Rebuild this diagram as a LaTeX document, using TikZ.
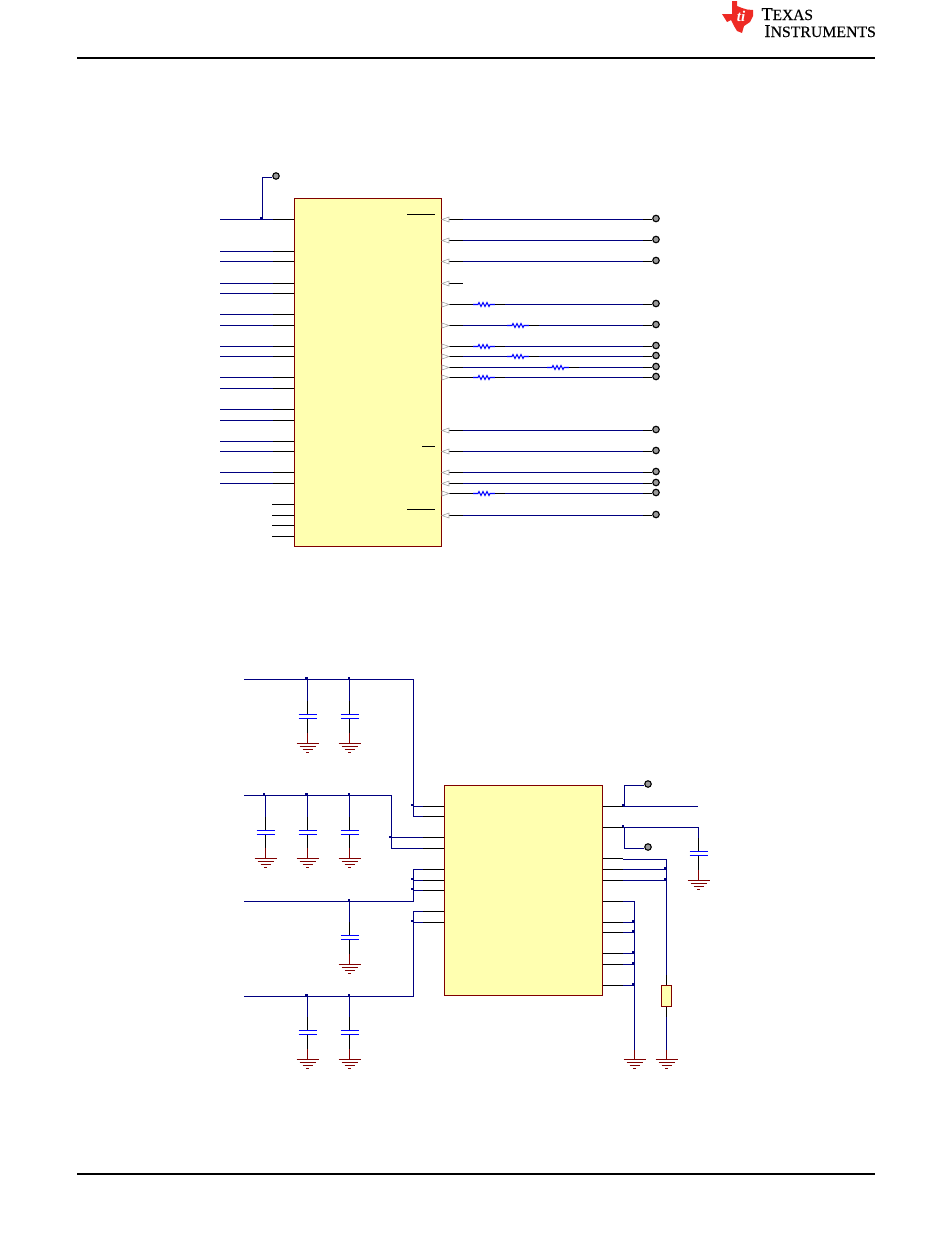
\documentclass[tikz,border=0pt]{standalone}
\usepackage{fontspec}
\setmainfont{Liberation Serif}
\usetikzlibrary{positioning}

\definecolor{netblue}{HTML}{000080}
\definecolor{partblue}{HTML}{0000FF}
\definecolor{partred}{HTML}{800000}
\definecolor{partfill}{HTML}{FFFFB0}
\definecolor{tired}{HTML}{EE2A24}

\begin{document}
\begin{tikzpicture} [x=1pt,y=-1pt,line width=1.1pt,
  net/.style= {draw=netblue},
  lead/.style= {draw=black},
  part/.style= {draw=partblue},
  gnd/.style= {draw=partred},
  chip/.style= {shape=rectangle,draw=partred,fill=partfill,inner sep=0},
  tri/.style= {draw=black!35,fill=white,line width=0.6pt},
  term/.style= {shape=circle,draw=black,fill=black!40,minimum size=6.5pt,inner sep=0},
  junc/.style= {shape=rectangle,fill=netblue,minimum size=2.5pt,inner sep=0},
  rule/.style= {draw=black,line width=1.9pt}]
\useasboundingbox (0,0) rectangle (950,1237);

% page head and foot
\draw[rule] (77,57.6)--(875,57.6);
\draw[rule] (77,1174)--(875,1174);
\fill[tired] (732,1)--(737,1)--(737,6)--(742,8)--(747,9.5)--(753,10)--(753,16)--(750,22)--(744,26)--(742,33)--(737,31)--(734,26)--(731,20)--(727,22)--(722,14)--(732,14)--cycle;
\node[text=white,font=\fontsize{15}{15}\itshape\bfseries,inner sep=0] (tilogo) at (741,16) {ti};
\node[anchor=base west,inner sep=0] (texas) at (761,20) {\addfontfeature{FakeBold=0.3}\fontsize{18}{18}\selectfont T\fontsize{15.5}{15.5}\selectfont EXAS};
\node[anchor=base west,inner sep=0] (instr) at (764,37) {\addfontfeature{FakeBold=0.3}\fontsize{18}{18}\selectfont I\fontsize{15.8}{15.8}\selectfont NSTRUMENTS};

% upper part
\node[chip,minimum width=147pt,minimum height=348pt] (ica) at (368,372.5) {};

\foreach \y in {219.5,251.5,261.5,283.5,293.5,314.5,325.5,346.5,356.5,377.5,388.5,409.5,420.5,441.5,451.5,472.5,483.5}{%
  \draw[net] (220,\y)--(273,\y);
  \draw[lead] (273,\y)--(ica.west |- 0,\y);}
\foreach \y in {504.5,515.5,525.5,536.5}{%
  \draw[lead] (272,\y)--(ica.west |- 0,\y);}

\node[term] (tvcc) at (276,176) {};
\draw[net] (262.5,219.5)--(262.5,177.5)--(tvcc.west |- 0,177.5);

% plain outputs
\foreach \y [count=\n] in {219.5,240.5,261.5,430.5,451.5,472.5,483.5,515.5}{%
  \node[term] (to\n) at (656,\y-1) {};
  \draw[lead] (ica.east |- 0,\y)--(463,\y);
  \draw[net] (463,\y)--(643,\y);
  \draw[lead] (643,\y)--(to\n.west |- 0,\y);
  \draw[tri] (442,\y)--(449,\y-2.5)--(449,\y+2.5)--cycle;}
\draw[lead] (ica.east |- 0,283.5)--(463,283.5);
\draw[tri] (442,283.5)--(449,281)--(449,286)--cycle;

% outputs with series resistor
\foreach \y/\b/\a [count=\n] in {304.5/473/473,325.5/463/507,346.5/473/473,356.5/463/507,367.5/463/547,377.5/473/473,493.5/473/473}{%
  \node[term] (tr\n) at (656,\y-1) {};
  \draw[lead] (ica.east |- 0,\y)--(\b,\y);
  \draw[net] (\b,\y)--(\a,\y);
  \draw[part] (\a,\y)--++(5,0)--++(1,-2)--++(2,4)--++(2,-4)--++(2,4)--++(2,-4)--++(2,4)--++(1,-2)--++(5,0);
  \draw[lead] (\a+22,\y)--(\a+32,\y);
  \draw[net] (\a+32,\y)--(643,\y);
  \draw[lead] (643,\y)--(tr\n.west |- 0,\y);
  \draw[tri] (449,\y)--(442,\y-2.5)--(442,\y+2.5)--cycle;}

\draw[lead] (407,214.5)--(435,214.5);
\draw[lead] (422,446.5)--(435,446.5);
\draw[lead] (407,509.5)--(435,509.5);

% lower part
\node[chip,minimum width=158pt,minimum height=210pt] (icb) at (523.5,890.5) {};

\foreach \y in {806.5,816.5,837.5,848.5,869.5,880.5,890.5,911.5,922.5}{%
  \draw[lead] (423,\y)--(icb.west |- 0,\y);}
\foreach \y in {806.5,827.5,858.5,869.5,880.5,901.5,922.5,932.5,953.5,964.5,985.5}{%
  \draw[lead] (icb.east |- 0,\y)--(623,\y);}

\draw[net] (244,679.5)--(413.5,679.5)--(413.5,816.5)--(423,816.5);
\draw[net] (413.5,806.5)--(423,806.5);
\draw[net] (244,795.5)--(391.5,795.5)--(391.5,848.5)--(423,848.5);
\draw[net] (391.5,837.5)--(423,837.5);
\draw[net] (244,901.5)--(413.5,901.5)--(413.5,869.5)--(423,869.5);
\draw[net] (413.5,880.5)--(423,880.5);
\draw[net] (413.5,890.5)--(423,890.5);
\draw[net] (244,996.5)--(413.5,996.5)--(413.5,911.5)--(423,911.5);
\draw[net] (413.5,922.5)--(423,922.5);

% caps to ground
\foreach \x/\r/\p/\g in {307.5/679.5/714.5/743.5,349.5/679.5/714.5/743.5,265.5/795.5/830.5/858.5,307.5/795.5/830.5/858.5,349.5/795.5/830.5/858.5,349.5/901.5/935.5/964.5,307.5/996.5/1030.5/1059.5,349.5/996.5/1030.5/1059.5,698.5/827.5/851.5/880.5}{%
  \draw[net] (\x,\r)--(\x,\p-14);
  \draw[lead] (\x,\p-14)--(\x,\p);
  \draw[part] (\x-9,\p)--(\x+9,\p);
  \draw[part] (\x-9,\p+4)--(\x+9,\p+4);
  \draw[lead] (\x,\p+4)--(\x,\g-11);
  \draw[gnd] (\x,\g-11)--(\x,\g);}

% right side nets
\node[term] (tvout) at (648,784) {};
\node[term] (tsns) at (648,847) {};
\draw[net] (623,806.5)--(698,806.5);
\draw[net] (624.5,806.5)--(624.5,785.5)--(tvout.west |- 0,785.5);
\draw[net] (623,827.5)--(698.5,827.5);
\draw[net] (624.5,827.5)--(624.5,848.5)--(tsns.west |- 0,848.5);
\draw[net] (623,859.5)--(666.5,859.5)--(666.5,975);
\draw[net] (623,869.5)--(666.5,869.5);
\draw[net] (623,880.5)--(666.5,880.5);
\draw[net] (623,901.5)--(634.5,901.5)--(634.5,1050);
\foreach \y in {922.5,932.5,953.5,964.5,985.5}{%
  \draw[net] (623,\y)--(634.5,\y);}
\draw[gnd] (634.5,1050)--(634.5,1059.5);

\node[chip,minimum width=10pt,minimum height=21pt] (rset) at (666.5,996) {};
\draw[lead] (666.5,975)--(rset.north);
\draw[lead] (rset.south)--(666.5,1017);
\draw[net] (666.5,1017)--(666.5,1050);
\draw[gnd] (666.5,1050)--(666.5,1059.5);

% ground symbols
\foreach \x/\y in {307.5/743.5,349.5/743.5,265.5/858.5,307.5/858.5,349.5/858.5,349.5/964.5,307.5/1059.5,349.5/1059.5,698.5/880.5,634.5/1059.5,666.5/1059.5}{%
  \draw[gnd] (\x-11,\y)--(\x+11,\y);
  \draw[gnd] (\x-8,\y+3)--(\x+8,\y+3);
  \draw[gnd] (\x-5,\y+6)--(\x+5,\y+6);
  \draw[gnd] (\x-1.5,\y+9)--(\x+1.5,\y+9);}

% junctions
\foreach \x/\y [count=\n] in {261/218,306.5/678,349/678,264/794,306.5/794,349/794,412/805,390.5/837,412/879,412/889,349/900,412/921,306.5/995,349/995,623/805,623/826,665/868.5,665/879,633/921,633/931,633/952,633/963,633/984}{%
  \node[junc] (j\n) at (\x,\y) {};}
\end{tikzpicture}
\end{document}
